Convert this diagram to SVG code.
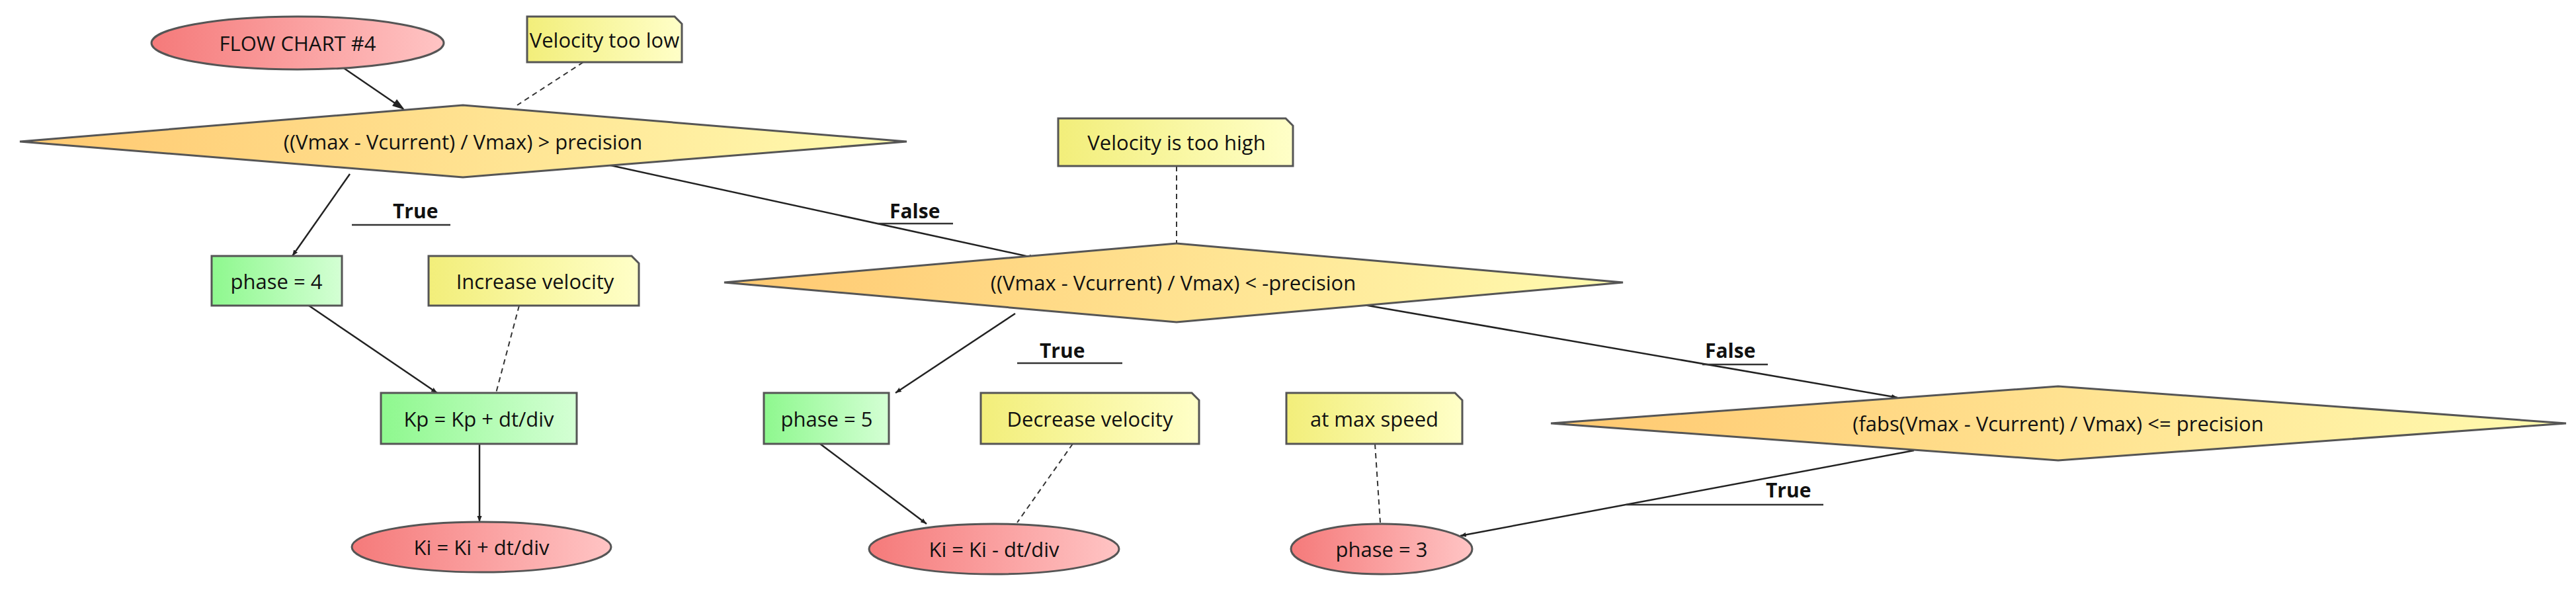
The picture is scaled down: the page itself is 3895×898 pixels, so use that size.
<svg xmlns="http://www.w3.org/2000/svg" width="3895" height="898" viewBox="0 0 3895 898">
<style>
text{font-family:"Open Sans","Noto Sans","Liberation Sans",sans-serif;font-size:31px;fill:#111;text-anchor:middle;dominant-baseline:central}
.lbl{font-weight:bold;font-size:30px;text-anchor:start}
.sh{stroke:#555;stroke-width:3}
.c{stroke:#222;stroke-width:2.5;fill:none;marker-end:url(#a)}
.d{stroke:#333;stroke-width:2;fill:none;stroke-dasharray:8,6}
.u{stroke:#333;stroke-width:2.5}
</style>
<defs>
<linearGradient id="r"><stop offset="0" stop-color="#F57A7A"/><stop offset="1" stop-color="#FFC4C4"/></linearGradient>
<linearGradient id="o"><stop offset="0" stop-color="#FFC870"/><stop offset="1" stop-color="#FFFBB0"/></linearGradient>
<linearGradient id="g"><stop offset="0" stop-color="#8EF88E"/><stop offset="1" stop-color="#D4FFD4"/></linearGradient>
<linearGradient id="n"><stop offset="0" stop-color="#F2EE7A"/><stop offset="1" stop-color="#FFFFC8"/></linearGradient>
<marker id="a" viewBox="0 0 10 10" refX="10" refY="5" markerWidth="9" markerHeight="9" orient="auto" markerUnits="userSpaceOnUse"><path d="M0,1 L10,5 L0,9 z" fill="#222" transform="scale(1)"/></marker>
</defs>
<g id="connectors">
<line class="c" x1="514" y1="99" x2="609" y2="164" style="marker-end:none"/>
<path d="M600,150 L612,166 L593,160 z" fill="#222"/>
<line class="d" x1="882" y1="94" x2="782" y2="159"/>
<line class="c" x1="529" y1="263" x2="442" y2="387"/>
<line class="c" x1="914" y1="248" x2="1565" y2="390"/>
<line class="d" x1="1779" y1="251" x2="1779" y2="368"/>
<line class="c" x1="467" y1="462" x2="661" y2="594"/>
<line class="d" x1="785" y1="462" x2="750" y2="594"/>
<line class="c" x1="725" y1="671" x2="725" y2="789"/>
<line class="c" x1="1535" y1="474" x2="1354" y2="594"/>
<line class="c" x1="2057" y1="460" x2="2869" y2="601"/>
<line class="c" x1="1240" y1="671" x2="1401" y2="792"/>
<line class="d" x1="1622" y1="671" x2="1538" y2="790"/>
<line class="d" x1="2079" y1="671" x2="2087" y2="790"/>
<line class="c" x1="2894" y1="681" x2="2208" y2="810"/>
<text class="lbl" x="594" y="318">True</text><line class="u" x1="532" y1="340" x2="681" y2="340"/>
<text class="lbl" x="1345" y="318">False</text><line class="u" x1="1327" y1="338" x2="1441" y2="338"/>
<text class="lbl" x="1572" y="529">True</text><line class="u" x1="1538" y1="549" x2="1697" y2="549"/>
<text class="lbl" x="2578" y="529">False</text><line class="u" x1="2574" y1="551" x2="2673" y2="551"/>
<text class="lbl" x="2670" y="740">True</text><line class="u" x1="2459" y1="763" x2="2757" y2="763"/>
</g>
<g id="start"><ellipse class="sh" cx="450" cy="65" rx="221" ry="40" fill="url(#r)"/><text x="450" y="65">FLOW CHART #4</text></g>
<g id="note1"><path class="sh" d="M797,25 H1020 L1031,36 V94 H797 Z" fill="url(#n)"/><text x="914" y="60">Velocity too low</text></g>
<g id="d1"><polygon class="sh" points="30,214 700,159 1371,214 700,268" fill="url(#o)"/><text x="700" y="214">((Vmax - Vcurrent) / Vmax) &gt; precision</text></g>
<g id="p4"><rect class="sh" x="320" y="387" width="197" height="75" fill="url(#g)"/><text x="418" y="425">phase = 4</text></g>
<g id="note2"><path class="sh" d="M648,387 H955 L966,398 V462 H648 Z" fill="url(#n)"/><text x="809" y="425">Increase velocity</text></g>
<g id="note3"><path class="sh" d="M1600,179 H1944 L1955,190 V251 H1600 Z" fill="url(#n)"/><text x="1779" y="215">Velocity is too high</text></g>
<g id="d2"><polygon class="sh" points="1095,427 1779,368 2454,427 1779,487" fill="url(#o)"/><text x="1774" y="427">((Vmax - Vcurrent) / Vmax) &lt; -precision</text></g>
<g id="kp"><rect class="sh" x="576" y="594" width="296" height="77" fill="url(#g)"/><text x="724" y="633">Kp = Kp + dt/div</text></g>
<g id="p5"><rect class="sh" x="1155" y="594" width="189" height="77" fill="url(#g)"/><text x="1250" y="633">phase = 5</text></g>
<g id="note4"><path class="sh" d="M1483,594 H1802 L1813,605 V671 H1483 Z" fill="url(#n)"/><text x="1648" y="633">Decrease velocity</text></g>
<g id="note5"><path class="sh" d="M1945,594 H2200 L2211,605 V671 H1945 Z" fill="url(#n)"/><text x="2078" y="633">at max speed</text></g>
<g id="d3"><polygon class="sh" points="2345,640 3112,584 3880,640 3112,696" fill="url(#o)"/><text x="3112" y="640">(fabs(Vmax - Vcurrent) / Vmax) &lt;= precision</text></g>
<g id="kiplus"><ellipse class="sh" cx="728" cy="827" rx="196" ry="38" fill="url(#r)"/><text x="728" y="827">Ki = Ki + dt/div</text></g>
<g id="kiminus"><ellipse class="sh" cx="1503" cy="830" rx="189" ry="38" fill="url(#r)"/><text x="1503" y="830">Ki = Ki - dt/div</text></g>
<g id="p3"><ellipse class="sh" cx="2089" cy="830" rx="137" ry="38" fill="url(#r)"/><text x="2089" y="830">phase = 3</text></g>
</svg>
